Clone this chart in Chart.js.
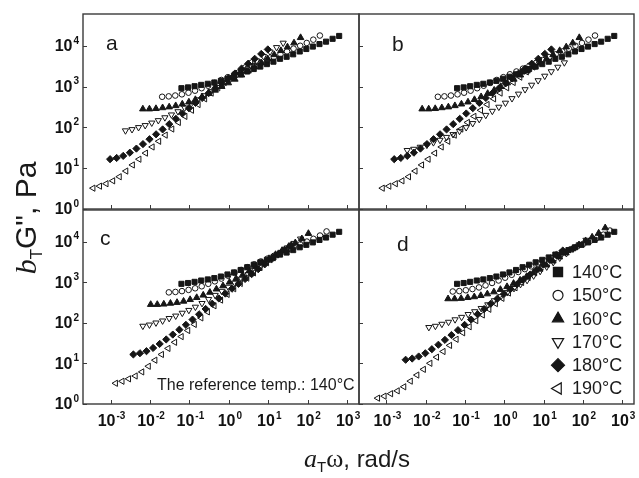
<!DOCTYPE html>
<html>
<head>
<meta charset="utf-8">
<script src="https://cdn.jsdelivr.net/npm/chart.js@4.4.0/dist/chart.umd.min.js"></script>
<style>
  body { margin: 0; background: #fff; }
  #wrap { position: relative; width: 639px; height: 478px; }
  #wrap canvas { position: absolute; left: 0; top: 0; }
</style>
</head>
<body>
<div id="wrap">
  <canvas id="pa" width="639" height="478"></canvas>
  <canvas id="pb" width="639" height="478"></canvas>
  <canvas id="pc" width="639" height="478"></canvas>
  <canvas id="pd" width="639" height="478"></canvas>
</div>
<script>
// frequency sweep, rad/s
var omega = [0.0628, 0.0922, 0.135, 0.199, 0.292, 0.428, 0.628, 0.922, 1.35, 1.99, 2.92, 4.28,
             6.28, 9.22, 13.5, 19.9, 29.2, 42.8, 62.8, 92.2, 135, 199, 292, 428, 628];
var temps = ['140', '150', '160', '170', '180', '190'];

// G'' (Pa) at each temperature, as plotted in panel a
var g140 = [912, 955, 1020, 1100, 1170, 1260, 1380, 1550, 1740, 2000, 2340, 2690, 3090, 3550, 4070, 4790, 5370, 6170, 7240, 8320, 9550, 11000, 12600, 14800, 17400];
var g150 = [562, 575, 603, 646, 708, 794, 912, 1050, 1230, 1450, 1700, 2000, 2340, 2750, 3240, 3800, 4470, 5250, 6170, 7240, 8510, 10000, 11700, 14100, 17800];
var g160 = [282, 282, 288, 302, 316, 339, 372, 417, 479, 562, 676, 813, 1000, 1230, 1510, 1910, 2400, 3020, 3800, 4790, 6030, 7590, 9330, 11700, 15800];
var g170 = [83.2, 89.1, 100, 112, 129, 148, 174, 204, 245, 302, 380, 479, 603, 759, 955, 1200, 1550, 2000, 2570, 3310, 4270, 5500, 7080, 9120, 11700];
var g180 = [16.6, 17.8, 20.0, 24.0, 30.2, 38.9, 51.3, 67.6, 89.1, 120, 162, 219, 295, 398, 525, 692, 912, 1200, 1580, 2090, 2750, 3630, 4790, 6310, 8130];
var g190 = [3.24, 3.63, 4.17, 4.90, 6.17, 8.51, 12.0, 16.6, 23.4, 33.1, 45.7, 64.6, 91.2, 132, 186, 263, 363, 501, 692, 933, 1260, 1700, 2290, 3020, 3980];
var gLoss = [g140, g150, g160, g170, g180, g190];

// shift factors for each panel (140..190 C)
var aT_a = [1, 0.324, 0.105, 0.038, 0.0155, 0.00575];
var aT_b = [1, 0.324, 0.129, 0.0537, 0.0251, 0.0126];
var aT_c = [1, 0.479, 0.166, 0.105, 0.0603, 0.0214];
var aT_d = [1, 0.776, 0.589, 0.191, 0.049, 0.00955];
var bT_a = [1, 1, 1, 1, 1, 1];
var bT_b = [1, 1, 1, 0.33, 1, 1];
var bT_c = [1, 1, 1, 1, 1, 1];
var bT_d = [1, 1.05, 1.38, 0.93, 0.74, 0.43];

var xTicks = [1e-3, 1e-2, 1e-1, 1, 10, 100, 1000];
var xTickExp = ['-3', '-2', '-1', '0', '1', '2', '3'];
var yTicks = [1, 10, 100, 1000, 10000];
var yTickExp = ['0', '1', '2', '3', '4'];

var INK = '#161616';
var marks = [
  { pointStyle: 'rect', radius: 3.6, rotation: 0, fill: INK },
  { pointStyle: 'circle', radius: 2.8, rotation: 0, fill: 'rgba(0,0,0,0)' },
  { pointStyle: 'triangle', radius: 3.8, rotation: 0, fill: INK },
  { pointStyle: 'triangle', radius: 3.6, rotation: 180, fill: 'rgba(0,0,0,0)' },
  { pointStyle: 'rectRot', radius: 3.6, rotation: 0, fill: INK },
  { pointStyle: 'triangle', radius: 3.6, rotation: 270, fill: 'rgba(0,0,0,0)' }
];

var panels = [
  { id: 'pa', letter: 'a', lx: 106, ly: 50, box: [83, 14, 359, 209], aT: aT_a, bT: bT_a, xLab: false, yLab: true },
  { id: 'pb', letter: 'b', lx: 392, ly: 51, box: [359, 14, 637, 209], aT: aT_b, bT: bT_b, xLab: false, yLab: false },
  { id: 'pc', letter: 'c', lx: 100, ly: 245, box: [83, 210, 359, 404], aT: aT_c, bT: bT_c, xLab: true, yLab: true, note: true },
  { id: 'pd', letter: 'd', lx: 397, ly: 251, box: [359, 210, 637, 404], aT: aT_d, bT: bT_d, xLab: true, yLab: false, legend: true }
];

var SANS = "'Liberation Sans', Arial, sans-serif";
var SERIF = "'Liberation Serif', 'Times New Roman', serif";

function powLabel(ctx, exp, x, y, align) {
  ctx.font = 'bold 16px ' + SANS;
  var w1 = ctx.measureText('10').width;
  ctx.font = 'bold 10px ' + SANS;
  var w2 = ctx.measureText(exp).width;
  var x0 = align === 'right' ? x - w1 - w2 - 1 : x - (w1 + w2 + 1) / 2;
  ctx.textAlign = 'left';
  ctx.textBaseline = 'middle';
  ctx.font = 'bold 16px ' + SANS;
  ctx.fillText('10', x0, y);
  ctx.font = 'bold 10px ' + SANS;
  ctx.fillText(exp, x0 + w1 + 1, y - 6);
}

function marker(ctx, m, x, y, r) {
  ctx.save();
  ctx.fillStyle = m.fill;
  ctx.strokeStyle = INK;
  ctx.lineWidth = 1.2;
  if (Chart.helpers && Chart.helpers.drawPoint) {
    Chart.helpers.drawPoint(ctx, { pointStyle: m.pointStyle, radius: r, rotation: m.rotation, borderWidth: 1.2 }, x, y);
  }
  ctx.restore();
}

var framePlugin = {
  id: 'frame',
  afterDraw: function (chart) {
    var p = chart.options.plugins.frame;
    var ctx = chart.ctx, ca = chart.chartArea;
    var xs = chart.scales.x, ys = chart.scales.y;
    ctx.save();
    ctx.strokeStyle = '#3a3a3a';
    ctx.lineWidth = 1.4;
    ctx.strokeRect(ca.left, ca.top, ca.right - ca.left, ca.bottom - ca.top);
    ctx.lineWidth = 1;
    ctx.beginPath();
    xTicks.forEach(function (v) {
      var px = Math.round(xs.getPixelForValue(v)) + 0.5;
      ctx.moveTo(px, ca.bottom);
      ctx.lineTo(px, ca.bottom - 4);
    });
    yTicks.forEach(function (v) {
      var py = Math.round(ys.getPixelForValue(v)) + 0.5;
      ctx.moveTo(ca.left, py);
      ctx.lineTo(ca.left + 4, py);
    });
    ctx.stroke();

    ctx.fillStyle = '#111';
    if (p.xLab) {
      xTicks.forEach(function (v, i) {
        powLabel(ctx, xTickExp[i], xs.getPixelForValue(v) + 1, ca.bottom + 18, 'center');
      });
    }
    if (p.yLab) {
      yTicks.forEach(function (v, i) {
        powLabel(ctx, yTickExp[i], ca.left - 4, ys.getPixelForValue(v) + 1, 'right');
      });
    }

    ctx.font = '21px ' + SANS;
    ctx.textAlign = 'left';
    ctx.textBaseline = 'alphabetic';
    ctx.fillStyle = '#1a1a1a';
    ctx.fillText(p.letter, p.lx, p.ly);

    if (p.note) {
      ctx.font = '16px ' + SANS;
      ctx.fillText('The reference temp.: 140\u00b0C', 157, 390);
    }
    if (p.legend) {
      var sizes = [6.5, 5, 6.5, 6.5, 6.5, 6.5];
      temps.forEach(function (t, i) {
        var y = 272 + i * 23.3;
        marker(ctx, marks[i], 558, y, sizes[i]);
        ctx.fillStyle = '#1a1a1a';
        ctx.font = '18px ' + SANS;
        ctx.textBaseline = 'middle';
        ctx.fillText(t + '\u00b0C', 572, y + 1);
      });
    }
    ctx.restore();
  }
};

panels.forEach(function (p) {
  var datasets = temps.map(function (t, i) {
    return {
      label: t + '\u00b0C',
      data: omega.map(function (w, k) { return { x: w * p.aT[i], y: gLoss[i][k] * p.bT[i] }; }),
      pointStyle: marks[i].pointStyle,
      pointRadius: marks[i].radius,
      pointRotation: marks[i].rotation,
      pointBackgroundColor: marks[i].fill,
      pointBorderColor: INK,
      pointBorderWidth: 1,
      showLine: false
    };
  });
  new Chart(document.getElementById(p.id), {
    type: 'scatter',
    data: { datasets: datasets },
    options: {
      responsive: false,
      animation: false,
      layout: { padding: { left: p.box[0], top: p.box[1], right: 639 - p.box[2], bottom: 478 - p.box[3] } },
      plugins: {
        legend: { display: false },
        tooltip: { enabled: false },
        frame: p
      },
      scales: {
        x: { type: 'logarithmic', min: 2e-4, max: 2e3, display: false },
        y: { type: 'logarithmic', min: 1, max: 6e4, display: false }
      }
    },
    plugins: [framePlugin]
  });
});

// axis titles, drawn once on the last canvas
(function () {
  var ctx = document.getElementById('pd').getContext('2d');
  ctx.save();
  ctx.fillStyle = '#1a1a1a';
  ctx.textBaseline = 'alphabetic';
  // y title: b_T G'', Pa
  ctx.translate(36, 218);
  ctx.rotate(-Math.PI / 2);
  var parts = [
    { t: 'b', f: 'italic 30px ' + SERIF, dy: 0 },
    { t: 'T', f: '17px ' + SANS, dy: 6 },
    { t: 'G", Pa', f: '30px ' + SANS, dy: 0 }
  ];
  var total = 0;
  parts.forEach(function (s) { ctx.font = s.f; s.w = ctx.measureText(s.t).width; total += s.w; });
  var x = -total / 2;
  parts.forEach(function (s) { ctx.font = s.f; ctx.fillText(s.t, x, s.dy); x += s.w; });
  ctx.restore();

  // x title: a_T w, rad/s
  ctx.save();
  ctx.fillStyle = '#1a1a1a';
  var xp = [
    { t: 'a', f: 'italic 26px ' + SERIF, dy: 0 },
    { t: 'T', f: '15px ' + SANS, dy: 5 },
    { t: '\u03c9', f: '26px ' + SERIF, dy: 0 },
    { t: ', rad/s', f: '24px ' + SANS, dy: 0 }
  ];
  var tot = 0;
  xp.forEach(function (s) { ctx.font = s.f; s.w = ctx.measureText(s.t).width; tot += s.w; });
  var x2 = 357 - tot / 2;
  xp.forEach(function (s) { ctx.font = s.f; ctx.fillText(s.t, x2, 467 + s.dy); x2 += s.w; });
  ctx.restore();
})();
</script>
</body>
</html>
